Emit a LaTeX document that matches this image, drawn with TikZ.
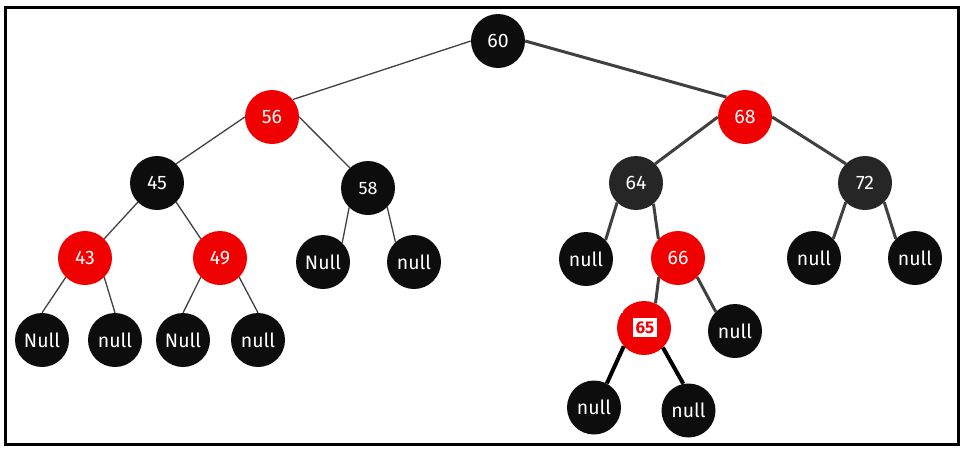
\documentclass[tikz,border=0pt]{standalone}
\usepackage{fontspec}
\setmainfont{Fira Sans}
\definecolor{rbred}{HTML}{F00000}
\definecolor{nblack}{HTML}{0D0D0D}
\definecolor{ngrey}{HTML}{262626}
\definecolor{edgegrey}{HTML}{404040}
\begin{document}
\begin{tikzpicture}[x=1pt,y=-1pt,
  rbnode/.style={circle,minimum size=54pt,inner sep=0pt,text=white,
    font=\fontsize{19.5}{19.5}\selectfont},
  blk/.style={rbnode,fill=nblack},
  gry/.style={rbnode,fill=ngrey},
  rd/.style={rbnode,fill=rbred},
  thinedge/.style={draw=edgegrey,line width=1.3pt},
  thickedge/.style={draw=edgegrey,line width=3pt},
  blackedge/.style={draw=black,line width=4pt}]
\useasboundingbox (0,0) rectangle (968,453);
\draw[line width=3pt] (5.5,7.5) rectangle (958.3,444.3);
% nodes
\node[blk] (n60) at (498,41) {60};
\node[rd]  (n56) at (272,117) {56};
\node[rd]  (n68) at (745,117) {68};
\node[blk] (n45) at (157,183) {45};
\node[blk,font=\fontsize{18}{18}\selectfont] (n58) at (368,188) {58};
\node[gry] (n64) at (636,183) {64};
\node[gry] (n72) at (865,183) {72};
\node[rd]  (n43) at (85,258) {43};
\node[rd]  (n49) at (220,258) {49};
\node[blk] (l58a) at (323,262) {Null};
\node[blk] (l58b) at (414,262) {null};
\node[blk] (l64a) at (586,259) {null};
\node[rd]  (n66) at (678,258) {66};
\node[blk] (l72a) at (814,258) {null};
\node[blk] (l72b) at (915,258) {null};
\node[blk] (l43a) at (42,340) {Null};
\node[blk] (l43b) at (115,340) {null};
\node[blk] (l49a) at (183,340) {Null};
\node[blk] (l49b) at (258,340) {null};
\node[rd]  (n65) at (644,328) {};
\fill[white] (614,298) rectangle (622.5,312.5);
\node[fill=white,text=rbred,inner sep=0pt,minimum width=24pt,minimum height=19pt,
  font=\fontsize{17}{17}\selectfont\bfseries] (t65) at (645,327.5) {65};
\node[blk] (l66b) at (735,331) {null};
\node[blk] (l65a) at (594,407.5) {null};
\node[blk] (l65b) at (688.5,410.5) {null};
% edges
\draw[thinedge] (n60.west) -- (n56.40);
\draw[thickedge] (n60.east) -- (n68.133);
\draw[thinedge] (n56.west) -- (n45.45);
\draw[thinedge] (n56.east) -- (n58.132);
\draw[thinedge] (n45.-135) -- (n43.45);
\draw[thinedge] (n45.-45) -- (n49.135);
\draw[thinedge] (n43.-135) -- (l43a.north);
\draw[thinedge] (n43.-45) -- (l43b.north);
\draw[thinedge] (n49.-135) -- (l49a.north);
\draw[thinedge] (n49.-45) -- (l49b.north);
\draw[thinedge] (n58.-134) -- (l58a.45);
\draw[thinedge] (n58.-45) -- (l58b.133);
\draw[thickedge] (n68.west) -- (n64.45);
\draw[thickedge] (n68.east) -- (n72.135);
\draw[thickedge] (n64.-134) -- (l64a.44);
\draw[thickedge] (n64.-50) -- (n66.136);
\draw[thickedge] (n72.-135) -- (l72a.45);
\draw[thickedge] (n72.-45) -- (l72b.135);
\draw[thickedge] (n66.-135) -- (n65.65);
\draw[thickedge] (n66.-45) -- (l66b.135);
\draw[blackedge] (n65.-138) -- (l65a.62);
\draw[blackedge] (n65.-46) -- (l65b.101);
\end{tikzpicture}
\end{document}
